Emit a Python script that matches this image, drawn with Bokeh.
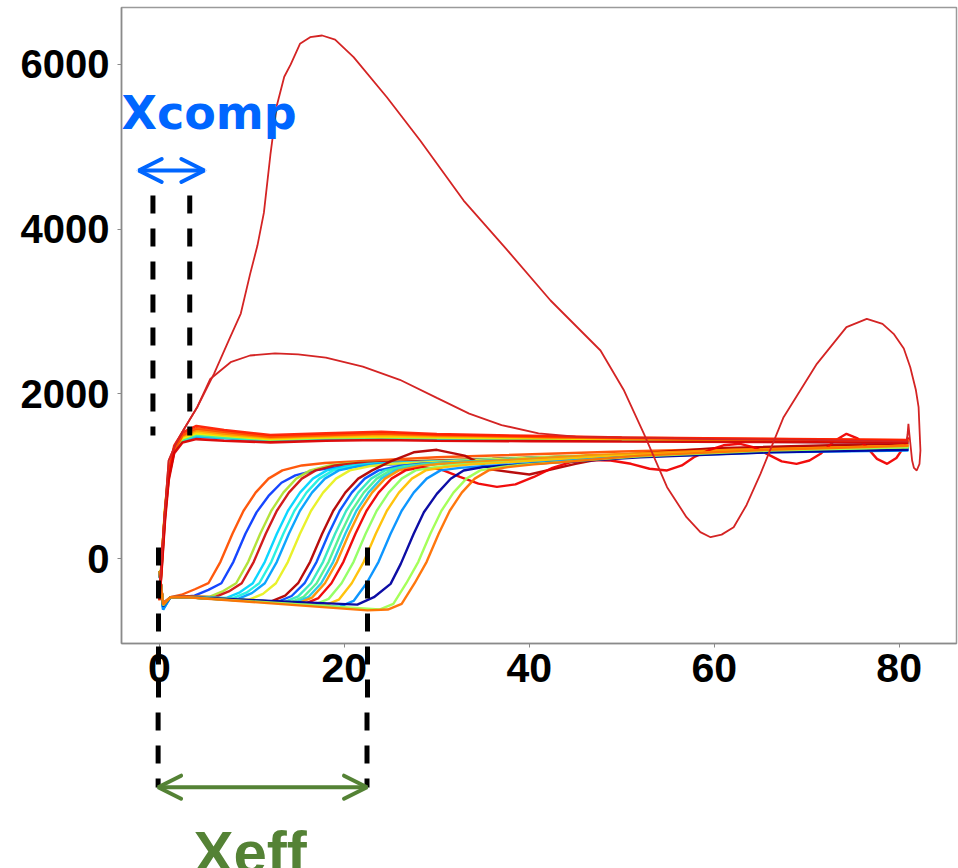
from bokeh.plotting import figure
from bokeh.models import Range1d, FixedTicker, Arrow, OpenHead, Label
from bokeh.layouts import column
from bokeh.embed import file_html
from bokeh.resources import INLINE

# ---------------- axes ----------------
x_ticks = [0, 20, 40, 60, 80]
y_ticks = [0, 2000, 4000, 6000]

# ---------------- upper bundle (fast rise) ----------------
upper_x = [0.0, 0.25, 0.6, 1.0, 1.6, 2.5, 4.0, 7.0, 12.0, 18.0, 24.0, 30.0, 40.0, 50.0, 65.0, 81.0]
upper_colors = ["#00b0ff", "#40f0a0", "#f0f000", "#ffc000", "#ff8c00", "#ff5000", "#ff1e00", "#dc0000"]
upper_ys = [
    [-500, -80, 520, 980, 1300, 1430, 1480, 1460, 1430, 1450, 1460, 1450, 1440, 1430, 1420, 1410],
    [-480, -40, 560, 1020, 1320, 1440, 1500, 1470, 1440, 1460, 1470, 1460, 1450, 1440, 1430, 1420],
    [-470, 0, 600, 1060, 1350, 1460, 1520, 1490, 1450, 1470, 1480, 1470, 1460, 1450, 1440, 1425],
    [-480, -20, 580, 1040, 1340, 1480, 1540, 1500, 1460, 1480, 1490, 1480, 1470, 1455, 1440, 1430],
    [-500, -60, 540, 1000, 1330, 1490, 1560, 1520, 1470, 1490, 1510, 1490, 1475, 1460, 1445, 1430],
    [-510, -100, 500, 980, 1310, 1500, 1580, 1540, 1480, 1500, 1520, 1500, 1480, 1465, 1450, 1435],
    [-490, -40, 560, 1030, 1370, 1530, 1610, 1560, 1500, 1520, 1540, 1510, 1490, 1470, 1455, 1440],
    [-500, -120, 460, 950, 1280, 1410, 1450, 1430, 1410, 1430, 1440, 1430, 1425, 1420, 1415, 1405],
]

# ---------------- lower bundle (delayed rise) ----------------
lower_colors = ["#ff5000", "#0a3cff", "#b0e030", "#d01010", "#00d4ff", "#20f0e0", "#00a0ff",
                "#e8f020", "#b40000", "#0050ff", "#30e8c0", "#50f090", "#20c8e8", "#ff9000",
                "#f00000", "#90ff60", "#ffc000", "#0090ff", "#0000a0", "#a0ff50", "#ff7000"]
lower_xs = [
    [0, 0.4, 1.2, 2.4, 3.9, 5.3, 6.6, 7.9, 9.1, 10.4, 11.8, 13.3, 15.4, 17.9, 30, 50, 65, 81],
    [0, 0.4, 1.2, 3.0, 3.8, 5.3, 6.7, 8.0, 9.3, 10.5, 11.8, 13.2, 14.7, 16.8, 19.3, 35, 55, 81],
    [0, 0.4, 1.2, 3.0, 5.4, 6.9, 8.3, 9.6, 10.9, 12.1, 13.4, 14.8, 16.3, 18.4, 20.9, 38, 58, 81],
    [0, 0.4, 1.2, 3.0, 6.0, 7.5, 8.9, 10.2, 11.5, 12.7, 14.0, 15.4, 16.9, 19.0, 21.5, 36, 56, 81],
    [0, 0.4, 1.2, 3.0, 7.2, 8.7, 10.1, 11.4, 12.7, 13.9, 15.2, 16.6, 18.1, 20.2, 22.7, 40, 60, 81],
    [0, 0.4, 1.2, 3.0, 7.9, 9.4, 10.8, 12.1, 13.4, 14.6, 15.9, 17.3, 18.8, 20.9, 23.4, 40, 60, 81],
    [0, 0.4, 1.2, 3.0, 8.5, 10.0, 11.4, 12.7, 14.0, 15.2, 16.5, 17.9, 19.4, 21.5, 24.0, 42, 62, 81],
    [0, 0.4, 1.2, 3.0, 9.7, 11.2, 12.6, 13.9, 15.2, 16.4, 17.7, 19.1, 20.6, 22.7, 25.2, 42, 62, 81],
    [0, 0.4, 1.2, 3.0, 12.1, 13.6, 15.0, 16.3, 17.6, 18.8, 20.1, 21.5, 23.0, 25.0, 27.5, 30.0, 33, 36, 40, 45, 50, 60, 81],
    [0, 0.4, 1.2, 3.0, 12.8, 14.3, 15.7, 17.0, 18.3, 19.5, 20.8, 22.2, 23.7, 25.8, 28.3, 44, 62, 81],
    [0, 0.4, 1.2, 3.0, 13.5, 15.0, 16.4, 17.7, 19.0, 20.2, 21.5, 22.9, 24.4, 26.5, 29.0, 45, 62, 81],
    [0, 0.4, 1.2, 3.0, 14.1, 15.6, 17.0, 18.3, 19.6, 20.8, 22.1, 23.5, 25.0, 27.1, 29.6, 45, 62, 81],
    [0, 0.4, 1.2, 3.0, 14.6, 16.1, 17.5, 18.8, 20.1, 21.3, 22.6, 24.0, 25.5, 27.6, 30.1, 46, 62, 81],
    [0, 0.4, 1.2, 3.0, 15.0, 16.5, 17.9, 19.2, 20.5, 21.7, 23.0, 24.4, 25.9, 28.0, 30.5, 46, 62, 81],
    [0, 0.4, 1.2, 3.0, 15.7, 17.2, 18.6, 19.9, 21.2, 22.4, 23.7, 25.1, 26.6, 28.5, 30.5, 32.5, 34.5,
     36.5, 38.5, 40.5, 42.5, 44.5, 46.5, 48.8, 51, 53, 54.9, 56.5, 57.8, 59.5, 61, 62.8, 64.3, 65.7,
     67.3, 68.9, 70.3, 71.5, 72.9, 74.3, 75.5, 76.5, 77.6, 78.7, 79.7, 80.5, 81.0],
    [0, 0.4, 1.2, 3.0, 16.8, 18.3, 19.7, 21.0, 22.3, 23.5, 24.8, 26.2, 27.7, 29.8, 32.3, 48, 64, 81],
    [0, 0.4, 1.2, 3.0, 17.9, 19.4, 20.8, 22.1, 23.4, 24.6, 25.9, 27.3, 28.8, 30.9, 33.4, 48, 64, 81],
    [0, 0.4, 1.2, 3.0, 19.5, 21.0, 22.4, 23.7, 25.0, 26.2, 27.5, 28.9, 30.4, 32.5, 35.0, 50, 66, 81],
    [0, 0.4, 1.2, 3.0, 21.4, 23.2, 25.0, 26.1, 27.5, 28.6, 30.0, 31.5, 32.9, 35.0, 37.5, 52, 66, 81],
    [0, 0.4, 1.2, 3.0, 23.8, 25.3, 26.7, 28.0, 29.3, 30.5, 31.8, 33.2, 34.7, 36.8, 39.3, 52, 66, 81],
    [0, 0.4, 1.2, 3.0, 22.5, 24.7, 26.2, 27.6, 28.9, 30.2, 31.4, 32.7, 34.1, 35.6, 37.7, 40.2, 52, 66, 81],
]
lower_ys = [
    [-150, -560, -470, -440, -370, -300, -40, 300, 580, 800, 970, 1070, 1130, 1160, 1230, 1300, 1340, 1380],
    [-150, -560, -470, -460, -450, -380, -300, -40, 300, 560, 760, 920, 1010, 1070, 1110, 1200, 1280, 1330],
    [-150, -560, -470, -460, -465, -395, -300, -40, 300, 580, 800, 970, 1070, 1130, 1160, 1220, 1290, 1350],
    [-150, -560, -470, -460, -470, -400, -300, -40, 300, 580, 800, 970, 1070, 1130, 1160, 1210, 1280, 1360],
    [-150, -600, -470, -470, -480, -410, -300, -40, 300, 580, 800, 970, 1070, 1120, 1150, 1220, 1290, 1340],
    [-150, -580, -470, -470, -485, -415, -300, -40, 300, 580, 800, 970, 1070, 1120, 1150, 1220, 1290, 1345],
    [-150, -620, -470, -470, -490, -420, -300, -40, 300, 580, 800, 970, 1070, 1120, 1150, 1220, 1290, 1330],
    [-150, -560, -470, -470, -500, -430, -300, -40, 300, 580, 800, 970, 1070, 1120, 1150, 1230, 1300, 1360],
    [-150, -540, -470, -470, -520, -450, -300, -40, 300, 580, 800, 970, 1070, 1180, 1290, 1320, 1250, 1080, 1020, 1150, 1260, 1340, 1400],
    [-150, -560, -470, -470, -525, -455, -300, -40, 300, 580, 800, 970, 1070, 1120, 1150, 1230, 1290, 1320],
    [-150, -570, -470, -470, -530, -460, -300, -40, 300, 580, 800, 970, 1070, 1120, 1150, 1230, 1300, 1350],
    [-150, -560, -470, -470, -535, -465, -300, -40, 300, 580, 800, 970, 1070, 1120, 1150, 1240, 1300, 1355],
    [-150, -590, -470, -470, -540, -470, -300, -40, 300, 580, 800, 970, 1070, 1120, 1150, 1240, 1300, 1340],
    [-150, -560, -470, -470, -545, -475, -300, -40, 300, 580, 800, 970, 1070, 1120, 1150, 1250, 1320, 1370],
    [-150, -560, -470, -470, -550, -480, -300, -40, 300, 580, 800, 970, 1070, 1110, 1080, 990, 910,
     870, 900, 990, 1100, 1170, 1195, 1190, 1150, 1090, 1069, 1130, 1230, 1320, 1375, 1393, 1350, 1271,
     1180, 1150, 1190, 1271, 1420, 1514, 1460, 1352, 1210, 1150, 1220, 1352, 1474],
    [-150, -570, -470, -470, -560, -490, -300, -40, 300, 580, 800, 970, 1070, 1110, 1140, 1230, 1300, 1350],
    [-150, -560, -470, -470, -570, -500, -300, -40, 300, 580, 800, 970, 1070, 1110, 1140, 1240, 1310, 1370],
    [-150, -620, -470, -470, -585, -515, -300, -40, 300, 580, 800, 970, 1070, 1100, 1120, 1230, 1290, 1310],
    [-150, -580, -470, -470, -560, -470, -308, -65, 300, 562, 785, 968, 1069, 1110, 1130, 1230, 1290, 1320],
    [-150, -570, -470, -470, -620, -550, -300, -40, 300, 580, 800, 970, 1070, 1110, 1140, 1240, 1310, 1350],
    [-150, -560, -470, -470, -630, -620, -550, -300, -40, 300, 580, 800, 970, 1070, 1110, 1140, 1250, 1320, 1370],
]

# ---------------- two outlier runs ----------------
outlier_color = "#d42424"
peak_x = [0.0, 0.4, 1.0, 1.8, 2.6, 4.1, 5.9, 7.5, 8.8, 9.8, 10.6, 11.3, 12.0, 12.7, 13.5, 14.2, 15.2,
          16.3, 17.6, 19.0, 21.0, 24.6, 28.2, 32.9, 37.5, 42.3, 47.7, 50.2, 52.4, 54.9, 57.0, 58.5,
          59.6, 60.8, 62.1, 63.5, 65.0, 67.5, 71.1, 74.3, 76.5, 78.2, 79.4, 80.5, 81.2, 81.8, 82.1,
          82.3, 82.2, 81.9, 81.6, 81.4, 81.1, 81.0, 80.9, 80.8]
peak_y = [-450, 300, 1190, 1400, 1560, 1840, 2243, 2650, 2975, 3450, 3800, 4200, 4900, 5500, 5850,
          6000, 6250, 6330, 6351, 6300, 6088, 5601, 5076, 4347, 3760, 3133, 2526, 2050, 1514, 866,
          502, 320, 259, 290, 380, 650, 1028, 1716, 2364, 2809, 2910, 2850, 2728, 2550, 2323, 2050,
          1837, 1311, 1150, 1069, 1100, 1190, 1514, 1636, 1500, 1433]
hump_x = [0.0, 0.4, 1.0, 1.8, 2.6, 4.1, 5.5, 7.7, 9.8, 12.5, 15, 18, 22, 26, 30, 33.5, 37, 41, 45, 50,
          60, 70, 81]
hump_y = [-450, 300, 1190, 1400, 1560, 1840, 2180, 2384, 2465, 2490, 2480, 2440, 2330, 2170, 1950,
          1760, 1620, 1520, 1480, 1470, 1450, 1440, 1420]

# ---------------- annotation positions (data units) ----------------
xcomp_left, xcomp_right = -0.7, 3.28
xcomp_dash_top, xcomp_dash_bottom = 4408, 1494
xcomp_arrow = (-2.24, 4.86, 4712)
xcomp_label_pos = (-4.1, 5404)
xeff_left, xeff_right = -0.14, 22.45
xeff_dash_top_b, xeff_dash_bottom = -1870, -2781
xeff_arrow_y = -2777
xeff_label_pos = (3.68, -3570)

blue = "#0066ff"
green = "#548235"
x_range = Range1d(-4.1, 86.2)

# ================= main plot =================
p = figure(width=958, height=708, output_backend="svg", toolbar_location=None,
           x_range=x_range, y_range=Range1d(-1032, 6691),
           min_border_left=121, min_border_right=2, min_border_top=7, min_border_bottom=65)
p.background_fill_color = "white"
p.border_fill_color = "white"
p.grid.visible = False
p.outline_line_color = "#9a9a9a"
p.outline_line_width = 1.5

for ax in (p.xaxis[0], p.yaxis[0]):
    ax.axis_line_color = "#8a8a8a"
    ax.axis_line_width = 1.5
    ax.major_tick_line_color = "#8a8a8a"
    ax.major_tick_in = 0
    ax.major_tick_out = 4
    ax.major_label_text_color = "black"
    ax.major_label_text_font = "Liberation Sans"
    ax.major_label_text_font_style = "bold"

p.yaxis.ticker = FixedTicker(ticks=y_ticks)
p.yaxis.minor_tick_line_color = None
p.yaxis.major_label_text_font_size = "40px"
p.yaxis.major_label_standoff = 8

# x axis: the Xeff guide lines are drawn as its (dashed) minor ticks so they cross the label band
p.xaxis.ticker = FixedTicker(ticks=x_ticks, minor_ticks=[xeff_left, xeff_right])
p.xaxis.major_label_text_font_size = "41px"
p.xaxis.major_label_standoff = -55
p.xaxis.minor_tick_line_color = "black"
p.xaxis.minor_tick_line_width = 5
p.xaxis.minor_tick_line_dash = "18 15"
p.xaxis.minor_tick_line_dash_offset = 22
p.xaxis.minor_tick_in = 96
p.xaxis.minor_tick_out = 65

for xs, ys, c in zip(lower_xs, lower_ys, lower_colors):
    p.line(xs, ys, line_color=c, line_width=2.4, line_alpha=0.95)
for ys, c in zip(upper_ys, upper_colors):
    p.line(upper_x, ys, line_color=c, line_width=2.6, line_alpha=0.95)
p.line(hump_x, hump_y, line_color=outlier_color, line_width=1.8)
p.line(peak_x, peak_y, line_color=outlier_color, line_width=1.8)

p.segment(x0=[xcomp_left, xcomp_right], y0=[xcomp_dash_top] * 2,
          x1=[xcomp_left, xcomp_right], y1=[xcomp_dash_bottom] * 2,
          line_color="black", line_width=5, line_dash="18 15")

p.add_layout(Arrow(x_start=xcomp_arrow[0], x_end=xcomp_arrow[1], y_start=xcomp_arrow[2], y_end=xcomp_arrow[2],
                   line_color=blue, line_width=4, line_cap="round",
                   start=OpenHead(size=23, line_color=blue, line_width=4, line_cap="round"),
                   end=OpenHead(size=23, line_color=blue, line_width=4, line_cap="round")))
p.add_layout(Label(x=xcomp_label_pos[0], y=xcomp_label_pos[1], text="Xcomp", text_color=blue,
                   text_font="DejaVu Sans", text_font_style="bold", text_font_size="46px",
                   text_align="left", text_baseline="alphabetic"))

# ================= strip below the axis =================
q = figure(width=958, height=160, output_backend="svg", toolbar_location=None,
           x_range=x_range, y_range=Range1d(-3764, -1821.5),
           x_axis_location=None, y_axis_location=None,
           min_border_left=121, min_border_right=2, min_border_top=0, min_border_bottom=0)
q.background_fill_color = "white"
q.border_fill_color = "white"
q.outline_line_color = None
q.grid.visible = False

q.segment(x0=[xeff_left, xeff_right], y0=[xeff_dash_top_b] * 2,
          x1=[xeff_left, xeff_right], y1=[xeff_dash_bottom] * 2,
          line_color="black", line_width=5, line_dash="18 15")
q.add_layout(Arrow(x_start=xeff_left, x_end=xeff_right, y_start=xeff_arrow_y, y_end=xeff_arrow_y,
                   line_color=green, line_width=4, line_cap="round",
                   start=OpenHead(size=23, line_color=green, line_width=4, line_cap="round"),
                   end=OpenHead(size=23, line_color=green, line_width=4, line_cap="round")))
q.add_layout(Label(x=xeff_label_pos[0], y=xeff_label_pos[1], text="Xeff", text_color=green,
                   text_font="Liberation Sans", text_font_style="bold",
                   text_font_size="60px", text_align="left", text_baseline="alphabetic"))

layout = column(p, q, spacing=0)
open("out.html", "w").write(file_html(layout, INLINE))
